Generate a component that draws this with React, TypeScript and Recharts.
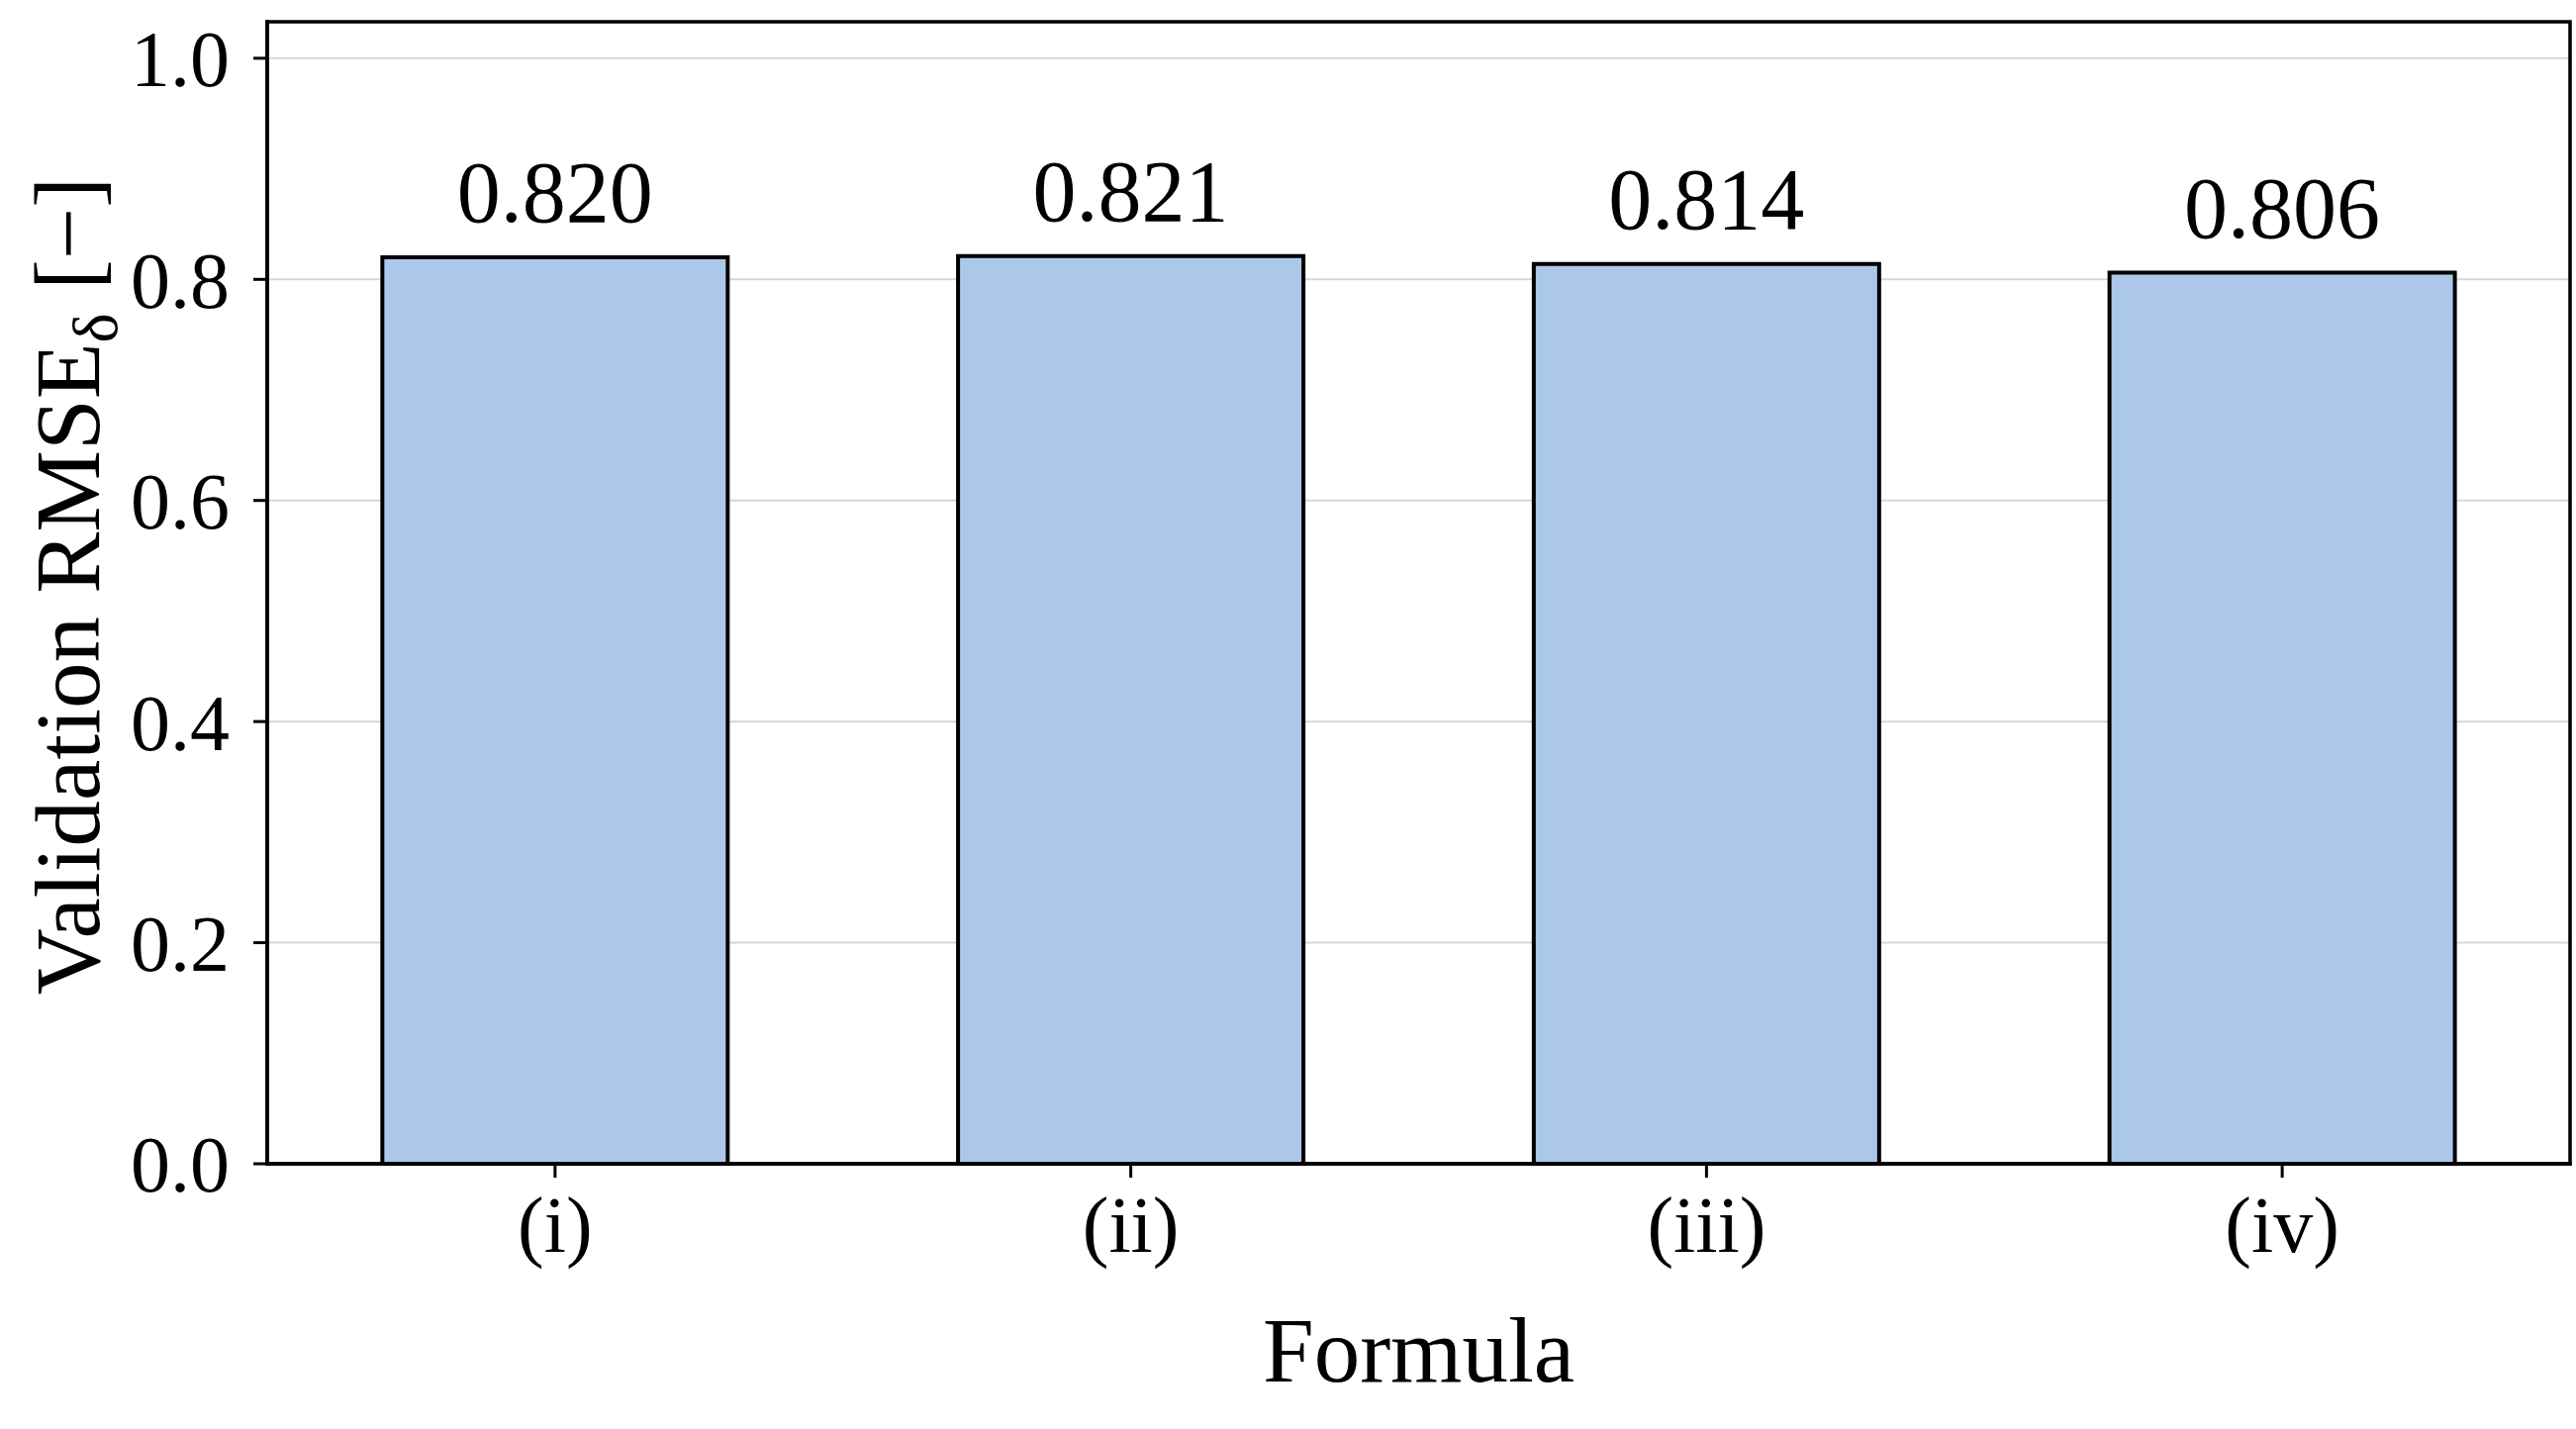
import React from 'react';
import { BarChart, Bar, XAxis, YAxis, CartesianGrid, LabelList, Label, ReferenceArea } from 'recharts';

const categories = ['(i)', '(ii)', '(iii)', '(iv)'];
const rmseValues = [0.820, 0.821, 0.814, 0.806];
const yTicks = [0, 0.2, 0.4, 0.6, 0.8, 1.0];
const yMax = 1.033;

const data = categories.map((c, i) => ({ formula: c, rmse: rmseValues[i] }));

const FONT = '"Liberation Serif", "Times New Roman", serif';
const W = 2603;
const H = 1444;

function YLabel(props: any) {
  const vb = props.viewBox || { x: 0, y: 0, width: 0, height: 0 };
  const x = vb.x + 100;
  const y = vb.y + vb.height / 2 - 7;
  return (
    <text
      x={x}
      y={y}
      transform={`rotate(-90 ${x} ${y})`}
      textAnchor="middle"
      fontFamily={FONT}
      fontSize={93}
      fill="#000"
    >
      Validation RMSE
      <tspan fontSize={64} dy={18}>δ</tspan>
      <tspan dy={-18}>{' [−]'}</tspan>
    </text>
  );
}

export default function App() {
  const axisLine = { stroke: '#000', strokeWidth: 3.5, strokeLinecap: 'square' as const };
  const tickLine = { stroke: '#000', strokeWidth: 3 };
  const tickStyle = { fontSize: 80, fontFamily: FONT, fill: '#000' };
  return (
    <div style={{ position: 'absolute', left: 0, top: 0, width: W, height: H, overflow: 'hidden', background: '#fff' }}>
      <BarChart
        width={W}
        height={H}
        data={data}
        margin={{ top: 22, right: 6, left: 0, bottom: 0 }}
        barCategoryGap="20%"
      >
        <CartesianGrid vertical={false} stroke="#d6d6d6" strokeWidth={2} />
        <XAxis
          dataKey="formula"
          height={268}
          interval={0}
          tickSize={14}
          tickMargin={18}
          tick={tickStyle}
          tickLine={tickLine}
          axisLine={axisLine}
        >
          <Label value="Formula" position="insideBottom" offset={48} fontSize={93} fontFamily={FONT} fill="#000" />
        </XAxis>
        <YAxis
          width={270}
          domain={[0, yMax]}
          ticks={yTicks}
          interval={0}
          tickFormatter={(v: number) => v.toFixed(1)}
          tickSize={14}
          tickMargin={24}
          tick={tickStyle}
          tickLine={tickLine}
          axisLine={axisLine}
          label={<YLabel />}
        />
        <Bar dataKey="rmse" fill="#abc8ea" stroke="#000" strokeWidth={4} isAnimationActive={false}>
          <LabelList
            dataKey="rmse"
            position="top"
            offset={36}
            formatter={(v: any) => Number(v).toFixed(3)}
            fontSize={88}
            fontFamily={FONT}
            fill="#000"
          />
        </Bar>
        <ReferenceArea
          y1={0}
          y2={yMax}
          fill="none"
          fillOpacity={0}
          stroke="#000"
          strokeWidth={3.5}
          ifOverflow="visible"
        />
      </BarChart>
    </div>
  );
}
